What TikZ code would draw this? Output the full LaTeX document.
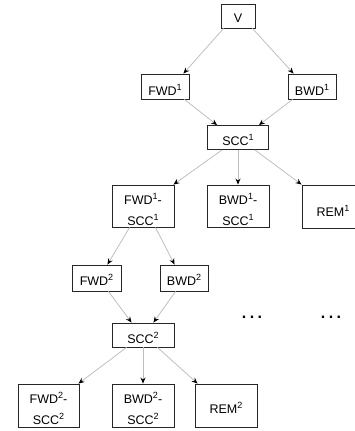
\documentclass[tikz,border=0pt]{standalone}
\usepackage{fontspec}
\setmainfont{Liberation Sans}
\usetikzlibrary{arrows.meta}
\newcommand{\supr}[1]{\raisebox{4.6pt}{\fontsize{9}{9}\selectfont #1}}
\begin{document}
\begin{tikzpicture}[x=1pt,y=-1pt,
  box/.style={draw=black!85, line width=0.9pt, inner sep=0pt, font=\fontsize{12.5}{15}\selectfont},
  twobox/.style={box, minimum width=62pt, text height=19pt, text depth=23pt},
  edge/.style={draw=black!25, line width=0.8pt, -{Stealth[length=6pt,width=5pt,inset=2pt,black]}},
  dots/.style={inner sep=0pt, anchor=base, font=\fontsize{16}{18}\selectfont\bfseries}
]
\clip (0,0) rectangle (355,431);
% row 0
\node[box, minimum width=34pt, text height=18pt, text depth=6pt] (V) at (238,16) {V};
% row 1
\node[box, minimum width=48pt, text height=21pt, text depth=4pt] (F1) at (165,86.5) {FWD\supr{1}};
\node[box, minimum width=48pt, text height=21pt, text depth=4pt] (B1) at (312,86.5) {BWD\supr{1}};
% row 2
\node[box, minimum width=61pt, text height=20pt, text depth=4pt] (S1) at (238,137.5) {SCC\supr{1}};
% row 3
\node[twobox] (FS1) at (143,206) {\begin{tabular}[t]{@{}c@{}}FWD\supr{1}-\\[6pt]SCC\supr{1}\end{tabular}};
\node[twobox] (BS1) at (238,206) {\begin{tabular}[t]{@{}c@{}}BWD\supr{1}-\\[6pt]SCC\supr{1}\end{tabular}};
\node[box, minimum width=62pt, text height=31pt, text depth=12pt] (R1) at (333,206.5) {REM\supr{1}};
% row 4
\node[box, minimum width=49pt, text height=20pt, text depth=6pt] (F2) at (96.5,278) {FWD\supr{2}};
\node[box, minimum width=48pt, text height=20pt, text depth=6pt] (B2) at (184,278) {BWD\supr{2}};
\node[dots] (d1) at (252,318) {.\hspace{3.5pt}.\hspace{3.5pt}.};
\node[dots] (d2) at (331,318) {.\hspace{3.5pt}.\hspace{3.5pt}.};
% row 5
\node[box, minimum width=62pt, text height=20pt, text depth=4pt] (S2) at (143,335) {SCC\supr{2}};
% row 6
\node[box, minimum width=61pt, text height=19pt, text depth=24pt] (FS2) at (48.5,405.5) {\begin{tabular}[t]{@{}c@{}}FWD\supr{2}-\\[6pt]SCC\supr{2}\end{tabular}};
\node[twobox, text depth=24pt] (BS2) at (143,405.5) {\begin{tabular}[t]{@{}c@{}}BWD\supr{2}-\\[6pt]SCC\supr{2}\end{tabular}};
\node[box, minimum width=62pt, text height=29pt, text depth=14pt] (R2) at (226,405.5) {REM\supr{2}};
% edges
\draw[edge] ([xshift=3pt]V.south west) -- ([xshift=-6pt]F1.north east);
\draw[edge] ([xshift=-3pt]V.south east) -- ([xshift=6pt]B1.north west);
\draw[edge] ([xshift=-5pt]F1.south east) -- ([xshift=10pt]S1.north west);
\draw[edge] ([xshift=5pt]B1.south west) -- ([xshift=-10pt]S1.north east);
\draw[edge] ([xshift=15pt]S1.south west) -- ([xshift=-1pt]FS1.north east);
\draw[edge] (S1.south) -- (BS1.north);
\draw[edge] ([xshift=-14pt]S1.south east) -- (R1.north west);
\draw[edge] ([xshift=18pt]FS1.south west) -- ([xshift=-14pt]F2.north east);
\draw[edge] ([xshift=-19pt]FS1.south east) -- ([xshift=15pt]B2.north west);
\draw[edge] ([xshift=-13pt]F2.south east) -- ([xshift=20pt]S2.north west);
\draw[edge] ([xshift=16pt]B2.south west) -- ([xshift=-21pt]S2.north east);
\draw[edge] ([xshift=15pt]S2.south west) -- ([xshift=-1pt]FS2.north east);
\draw[edge] (S2.south) -- (BS2.north);
\draw[edge] ([xshift=-17pt]S2.south east) -- ([xshift=3pt]R2.north west);
\end{tikzpicture}
\end{document}
